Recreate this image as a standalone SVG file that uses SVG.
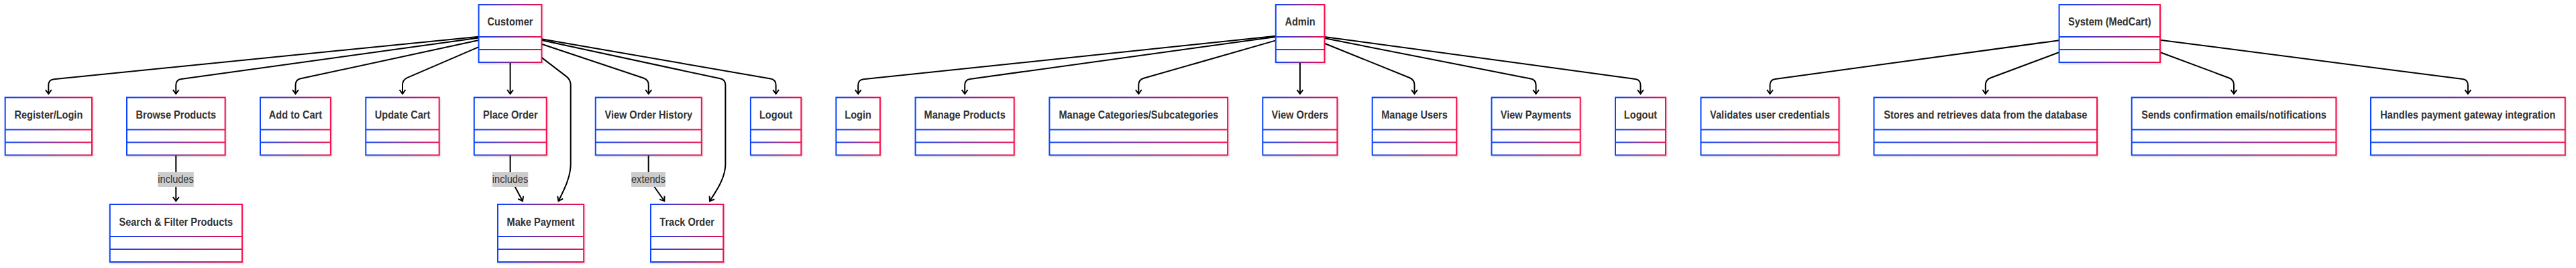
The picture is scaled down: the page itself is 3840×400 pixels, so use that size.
<svg xmlns="http://www.w3.org/2000/svg" width="3840" height="400" viewBox="0 0 3840 400">
<defs>
<linearGradient id="grad" x1="0" y1="0" x2="1" y2="0">
<stop offset="0" stop-color="#0a44ff"/>
<stop offset="0.5" stop-color="#7a2a9c"/>
<stop offset="1" stop-color="#f70a4c"/>
</linearGradient>
<filter id="shadow" x="-10%" y="-10%" width="130%" height="130%">
<feDropShadow dx="1" dy="1.5" stdDeviation="1.2" flood-color="#000" flood-opacity="0.18"/>
</filter>
<marker id="arrow" markerUnits="userSpaceOnUse" viewBox="0 0 12 12" markerWidth="12" markerHeight="12" refX="7.5" refY="6" orient="auto">
<path d="M1.5,1.5 L7.5,6 L1.5,10.5" fill="none" stroke="#000" stroke-width="2" stroke-linejoin="miter"/>
</marker>
</defs>
<style>
.box{fill:#fff;stroke:url(#grad);stroke-width:2;filter:url(#shadow)}
.div{fill:url(#grad)}
.lbl{font-family:"Liberation Sans",Arial,sans-serif;font-size:16px;font-weight:bold;fill:#333;text-anchor:middle}
.edge{fill:none;stroke:#000;stroke-width:2;marker-end:url(#arrow)}
.elbg{fill:#cccccc}
.eltx{font-family:"Liberation Sans",Arial,sans-serif;font-size:16px;fill:#333;text-anchor:middle}
</style>
<rect width="3840" height="400" fill="#fff"/>

<g id="connectors">
<path class="edge" d="M713.6,54.7 L80.3,118.2 Q72.3,119 72.3,127 L72.3,140"/>
<path class="edge" d="M713.6,56.5 L270.2,117.9 Q262.3,119 262.3,127 L262.3,140"/>
<path class="edge" d="M713.6,60.1 L448.3,117.3 Q440.5,119 440.5,127 L440.5,140"/>
<path class="edge" d="M713.6,70.2 L607.4,115.8 Q600,119 600,127 L600,140"/>
<path class="edge" d="M760.6,93 L760.6,140"/>
<path class="edge" d="M807.4,65.7 L959.2,116.5 Q966.8,119 966.8,127 L966.8,140"/>
<path class="edge" d="M807.4,58.2 L1148.7,117.6 Q1156.6,119 1156.6,127 L1156.6,140"/>
<path class="edge" d="M807.4,85.9 L844.3,114.1 Q850.7,119 850.7,127 L850.7,245 C850.7,265 840,285 832.5,300"/>
<path class="edge" d="M807.4,60.1 L1073.6,117.3 Q1081.4,119 1081.4,127 L1081.4,245 C1081.4,265 1068,285 1058,300"/>
<path class="edge" d="M262.3,232 L262.3,300"/>
<path class="edge" d="M760.6,232 L760.6,258 Q760.6,266 763.6,271 L779,300"/>
<path class="edge" d="M966.7,232 L966.7,258 Q966.7,266 970,271 L990.3,300"/>

<path class="edge" d="M1901.8,53.8 L1287.2,118.2 Q1279.2,119 1279.2,127 L1279.2,140"/>
<path class="edge" d="M1901.8,55 L1446.1,117.9 Q1438.2,119 1438.2,127 L1438.2,140"/>
<path class="edge" d="M1901.8,60.4 L1705,116.8 Q1697.3,119 1697.3,127 L1697.3,140"/>
<path class="edge" d="M1937.9,93 L1937.9,140"/>
<path class="edge" d="M1974.4,64.7 L2101.1,116 Q2108.5,119 2108.5,127 L2108.5,140"/>
<path class="edge" d="M1974.4,57.1 L2281.7,117.5 Q2289.6,119 2289.6,127 L2289.6,140"/>
<path class="edge" d="M1974.4,54.9 L2437.6,117.9 Q2445.5,119 2445.5,127 L2445.5,140"/>

<path class="edge" d="M3069.6,60.2 L2646.4,117.9 Q2638.5,119 2638.5,127 L2638.5,140"/>
<path class="edge" d="M3069.6,78 L2967.3,116.2 Q2959.8,119 2959.8,127 L2959.8,140"/>
<path class="edge" d="M3220,78 L3322.5,116.2 Q3330,119 3330,127 L3330,140"/>
<path class="edge" d="M3220,59.7 L3671,118 Q3678.9,119 3678.9,127 L3678.9,140"/>

<g id="label-includes-1">
<rect class="elbg" x="235.3" y="257" width="53.5" height="22"/>
<text class="eltx" transform="translate(262 273) scale(0.91 1)">includes</text>
</g>
<g id="label-includes-2">
<rect class="elbg" x="733.8" y="257" width="53.5" height="22"/>
<text class="eltx" transform="translate(760.5 273) scale(0.91 1)">includes</text>
</g>
<g id="label-extends">
<rect class="elbg" x="941" y="257" width="51" height="22"/>
<text class="eltx" transform="translate(966.5 273) scale(0.91 1)">extends</text>
</g>
</g>

<g id="customer"><rect class="box" x="713.6" y="7" width="93.8" height="86"/><rect class="div" x="713.6" y="54" width="93.8" height="2"/><rect class="div" x="713.6" y="73" width="93.8" height="2"/><text class="lbl" transform="translate(760.5 38.3) scale(0.91 1)">Customer</text></g>
<g id="admin"><rect class="box" x="1901.8" y="7" width="72.6" height="86"/><rect class="div" x="1901.8" y="54" width="72.6" height="2"/><rect class="div" x="1901.8" y="73" width="72.6" height="2"/><text class="lbl" transform="translate(1938.1 38.3) scale(0.91 1)">Admin</text></g>
<g id="system"><rect class="box" x="3069.6" y="7" width="150.4" height="86"/><rect class="div" x="3069.6" y="54" width="150.4" height="2"/><rect class="div" x="3069.6" y="73" width="150.4" height="2"/><text class="lbl" transform="translate(3144.8 38.3) scale(0.91 1)">System (MedCart)</text></g>

<g id="register-login"><rect class="box" x="7.7" y="145.5" width="129.3" height="86"/><rect class="div" x="7.7" y="192.5" width="129.3" height="2"/><rect class="div" x="7.7" y="211.5" width="129.3" height="2"/><text class="lbl" transform="translate(72.35 177) scale(0.91 1)">Register/Login</text></g>
<g id="browse-products"><rect class="box" x="189" y="145.5" width="146.6" height="86"/><rect class="div" x="189" y="192.5" width="146.6" height="2"/><rect class="div" x="189" y="211.5" width="146.6" height="2"/><text class="lbl" transform="translate(262.3 177) scale(0.91 1)">Browse Products</text></g>
<g id="add-to-cart"><rect class="box" x="388" y="145.5" width="104.9" height="86"/><rect class="div" x="388" y="192.5" width="104.9" height="2"/><rect class="div" x="388" y="211.5" width="104.9" height="2"/><text class="lbl" transform="translate(440.45 177) scale(0.91 1)">Add to Cart</text></g>
<g id="update-cart"><rect class="box" x="545.3" y="145.5" width="109.4" height="86"/><rect class="div" x="545.3" y="192.5" width="109.4" height="2"/><rect class="div" x="545.3" y="211.5" width="109.4" height="2"/><text class="lbl" transform="translate(600 177) scale(0.91 1)">Update Cart</text></g>
<g id="place-order"><rect class="box" x="706.8" y="145.5" width="107.9" height="86"/><rect class="div" x="706.8" y="192.5" width="107.9" height="2"/><rect class="div" x="706.8" y="211.5" width="107.9" height="2"/><text class="lbl" transform="translate(760.75 177) scale(0.91 1)">Place Order</text></g>
<g id="view-order-history"><rect class="box" x="887.8" y="145.5" width="158" height="86"/><rect class="div" x="887.8" y="192.5" width="158" height="2"/><rect class="div" x="887.8" y="211.5" width="158" height="2"/><text class="lbl" transform="translate(966.8 177) scale(0.91 1)">View Order History</text></g>
<g id="customer-logout"><rect class="box" x="1118.9" y="145.5" width="75.4" height="86"/><rect class="div" x="1118.9" y="192.5" width="75.4" height="2"/><rect class="div" x="1118.9" y="211.5" width="75.4" height="2"/><text class="lbl" transform="translate(1156.6 177) scale(0.91 1)">Logout</text></g>
<g id="admin-login"><rect class="box" x="1246.4" y="145.5" width="65.5" height="86"/><rect class="div" x="1246.4" y="192.5" width="65.5" height="2"/><rect class="div" x="1246.4" y="211.5" width="65.5" height="2"/><text class="lbl" transform="translate(1279.15 177) scale(0.91 1)">Login</text></g>
<g id="manage-products"><rect class="box" x="1364.6" y="145.5" width="147.1" height="86"/><rect class="div" x="1364.6" y="192.5" width="147.1" height="2"/><rect class="div" x="1364.6" y="211.5" width="147.1" height="2"/><text class="lbl" transform="translate(1438.15 177) scale(0.91 1)">Manage Products</text></g>
<g id="manage-categories"><rect class="box" x="1564.4" y="145.5" width="265.7" height="86"/><rect class="div" x="1564.4" y="192.5" width="265.7" height="2"/><rect class="div" x="1564.4" y="211.5" width="265.7" height="2"/><text class="lbl" transform="translate(1697.25 177) scale(0.91 1)">Manage Categories/Subcategories</text></g>
<g id="view-orders"><rect class="box" x="1882.3" y="145.5" width="111.1" height="86"/><rect class="div" x="1882.3" y="192.5" width="111.1" height="2"/><rect class="div" x="1882.3" y="211.5" width="111.1" height="2"/><text class="lbl" transform="translate(1937.85 177) scale(0.91 1)">View Orders</text></g>
<g id="manage-users"><rect class="box" x="2045.7" y="145.5" width="125.6" height="86"/><rect class="div" x="2045.7" y="192.5" width="125.6" height="2"/><rect class="div" x="2045.7" y="211.5" width="125.6" height="2"/><text class="lbl" transform="translate(2108.5 177) scale(0.91 1)">Manage Users</text></g>
<g id="view-payments"><rect class="box" x="2223.5" y="145.5" width="132.2" height="86"/><rect class="div" x="2223.5" y="192.5" width="132.2" height="2"/><rect class="div" x="2223.5" y="211.5" width="132.2" height="2"/><text class="lbl" transform="translate(2289.6 177) scale(0.91 1)">View Payments</text></g>
<g id="admin-logout"><rect class="box" x="2408" y="145.5" width="75" height="86"/><rect class="div" x="2408" y="192.5" width="75" height="2"/><rect class="div" x="2408" y="211.5" width="75" height="2"/><text class="lbl" transform="translate(2445.5 177) scale(0.91 1)">Logout</text></g>
<g id="validates-credentials"><rect class="box" x="2535.5" y="145.5" width="205.9" height="86"/><rect class="div" x="2535.5" y="192.5" width="205.9" height="2"/><rect class="div" x="2535.5" y="211.5" width="205.9" height="2"/><text class="lbl" transform="translate(2638.45 177) scale(0.91 1)">Validates user credentials</text></g>
<g id="stores-data"><rect class="box" x="2793.5" y="145.5" width="332.5" height="86"/><rect class="div" x="2793.5" y="192.5" width="332.5" height="2"/><rect class="div" x="2793.5" y="211.5" width="332.5" height="2"/><text class="lbl" transform="translate(2959.75 177) scale(0.91 1)">Stores and retrieves data from the database</text></g>
<g id="sends-notifications"><rect class="box" x="3177.7" y="145.5" width="304.7" height="86"/><rect class="div" x="3177.7" y="192.5" width="304.7" height="2"/><rect class="div" x="3177.7" y="211.5" width="304.7" height="2"/><text class="lbl" transform="translate(3330.05 177) scale(0.91 1)">Sends confirmation emails/notifications</text></g>
<g id="handles-payment"><rect class="box" x="3534" y="145.5" width="289.8" height="86"/><rect class="div" x="3534" y="192.5" width="289.8" height="2"/><rect class="div" x="3534" y="211.5" width="289.8" height="2"/><text class="lbl" transform="translate(3678.9 177) scale(0.91 1)">Handles payment gateway integration</text></g>

<g id="search-filter"><rect class="box" x="163.8" y="305" width="197.1" height="86"/><rect class="div" x="163.8" y="352" width="197.1" height="2"/><rect class="div" x="163.8" y="371" width="197.1" height="2"/><text class="lbl" transform="translate(262.35 336.5) scale(0.91 1)">Search &amp; Filter Products</text></g>
<g id="make-payment"><rect class="box" x="742" y="305" width="128.2" height="86"/><rect class="div" x="742" y="352" width="128.2" height="2"/><rect class="div" x="742" y="371" width="128.2" height="2"/><text class="lbl" transform="translate(806.1 336.5) scale(0.91 1)">Make Payment</text></g>
<g id="track-order"><rect class="box" x="970" y="305" width="108.3" height="86"/><rect class="div" x="970" y="352" width="108.3" height="2"/><rect class="div" x="970" y="371" width="108.3" height="2"/><text class="lbl" transform="translate(1024.15 336.5) scale(0.91 1)">Track Order</text></g>
</svg>
